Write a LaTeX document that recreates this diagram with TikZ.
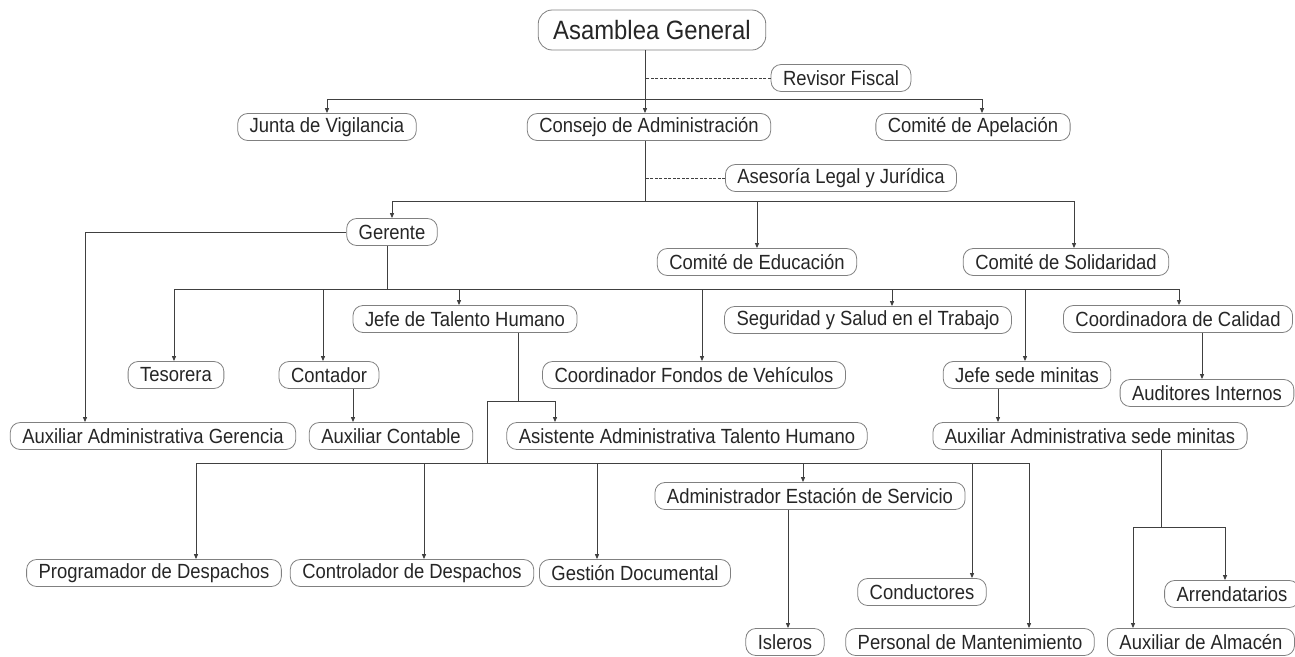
\documentclass[tikz,border=0pt]{standalone}
\usepackage{fontspec}
\setmainfont{Liberation Sans}[FakeStretch=0.9]
\usetikzlibrary{arrows.meta}

\tikzset{
  box/.style={draw=black!50, line width=0.8pt, rounded corners=10pt, fill=white,
    text=black!85, font=\fontsize{20.5}{22}\selectfont,
    inner xsep=12pt, inner ysep=0pt, minimum height=27pt},
  bigbox/.style={box, rounded corners=14pt, font=\fontsize{26.5}{30}\selectfont,
    inner xsep=15pt, minimum height=40pt},
  link/.style={draw=black!75, line width=1pt},
  arr/.style={link, -{Triangle[length=5pt,width=4pt]}},
  aux/.style={link, dash pattern=on 3pt off 1.5pt}
}

\begin{document}
\begin{tikzpicture}[x=1pt,y=-1pt]
    \useasboundingbox (0,0) rectangle (1295,656);

    % Top level
    \node[bigbox] (asamblea) at (652,30) {Asamblea General};
    \node[box] (revisor) at (841,78) {Revisor Fiscal};
    \node[box] (junta) at (327,127) {Junta de Vigilancia};
    \node[box] (consejo) at (649,127) {Consejo de Administración};
    \node[box] (apelacion) at (973,127) {Comité de Apelación};
    \node[box] (asesoria) at (841,178) {Asesoría Legal y Jurídica};

    % Gerente and committees
    \node[box] (gerente) at (392,232) {Gerente};
    \node[box] (educacion) at (757,262) {Comité de Educación};
    \node[box] (solidaridad) at (1066,262) {Comité de Solidaridad};

    % Level under Gerente
    \node[box] (jefeth) at (465,319) {Jefe de Talento Humano};
    \node[box] (seguridad) at (868,320) {Seguridad y Salud en el Trabajo};
    \node[box] (coordcal) at (1178,319) {Coordinadora de Calidad};
    \node[box] (tesorera) at (176,375) {Tesorera};
    \node[box] (contador) at (329,375) {Contador};
    \node[box] (fondos) at (694,375) {Coordinador Fondos de Vehículos};
    \node[box] (jefemin) at (1027,375) {Jefe sede minitas};
    \node[box] (auditores) at (1207,393) {Auditores Internos};

    % Auxiliaries
    \node[box] (auxger) at (153,436) {Auxiliar Administrativa Gerencia};
    \node[box] (auxcont) at (391,436) {Auxiliar Contable};
    \node[box] (asistth) at (687,436) {Asistente Administrativa Talento Humano};
    \node[box] (auxmin) at (1090,436) {Auxiliar Administrativa sede minitas};

    % Operations
    \node[box] (admest) at (810,496) {Administrador Estación de Servicio};
    \node[box] (programador) at (154,573) {Programador de Despachos};
    \node[box] (controlador) at (412,573) {Controlador de Despachos};
    \node[box] (gestion) at (635,573) {Gestión Documental};
    \node[box] (conductores) at (922,592) {Conductores};
    \node[box] (arrendatarios) at (1232,594) {Arrendatarios};
    \node[box] (isleros) at (785,642) {Isleros};
    \node[box] (personal) at (970,642) {Personal de Mantenimiento};
    \node[box] (almacen) at (1201,642) {Auxiliar de Almacén};

    % Asamblea -> first level
    \coordinate (busA) at (645,99);
    \draw[link] (asamblea.south -| busA) -- (busA);
    \draw[aux] (revisor.west) -- (revisor.west -| busA);
    \draw[arr] (busA) -- (consejo.north -| busA);
    \draw[arr] (busA) -| (junta.north);
    \draw[arr] (busA) -| ([xshift=9pt]apelacion.north);

    % Consejo -> Gerente and committees
    \coordinate (busB) at (645,201);
    \draw[link] (consejo.south -| busB) -- (busB);
    \draw[aux] (asesoria.west) -- (asesoria.west -| busB);
    \draw[arr] (busB) -| (gerente.north);
    \draw[arr] (busB) -| (educacion.north);
    \draw[arr] (busB) -| ([xshift=8pt]solidaridad.north);

    % Gerente
    \draw[arr] (gerente.west) -| ([xshift=-68pt]auxger.north);
    \coordinate (busC) at (387,289);
    \draw[link] (gerente.south -| busC) -- (busC);
    \foreach \n/\dx in {tesorera/-2, contador/-6, jefeth/-6, fondos/8,
                        seguridad/24, jefemin/-2, coordcal/1}
        \draw[arr] (busC) -| ([xshift=\dx pt]\n.north);

    % Contador
    \coordinate (c1) at ([xshift=24pt]contador.south);
    \draw[arr] (c1) -- (c1 |- auxcont.north);

    % Jefe de Talento Humano
    \coordinate (t1) at ([xshift=53pt]jefeth.south);
    \coordinate (busD) at (518,401);
    \coordinate (busE) at (487,463);
    \draw[link] (t1) -- (busD);
    \draw[arr] (busD) -| ([xshift=-132pt]asistth.north);
    \draw[link] (busD) -| (busE);
    \foreach \n/\dx in {programador/42, controlador/12, gestion/-38,
                        admest/-7, conductores/50, personal/59}
        \draw[arr] (busE) -| ([xshift=\dx pt]\n.north);

    % Administrador Estacion
    \coordinate (e1) at ([xshift=-22pt]admest.south);
    \draw[arr] (e1) -- (e1 |- isleros.north);

    % Coordinadora de Calidad
    \coordinate (q1) at ([xshift=24pt]coordcal.south);
    \draw[arr] (q1) -- (q1 |- auditores.north);

    % Jefe sede minitas
    \coordinate (m1) at ([xshift=-29pt]jefemin.south);
    \draw[arr] (m1) -- (m1 |- auxmin.north);
    \coordinate (m2) at ([xshift=71pt]auxmin.south);
    \coordinate (busF) at (1161,527);
    \draw[link] (m2) -- (busF);
    \draw[arr] (busF) -| ([xshift=-68pt]almacen.north);
    \draw[arr] (busF) -| ([xshift=-7pt]arrendatarios.north);
\end{tikzpicture}
\end{document}
